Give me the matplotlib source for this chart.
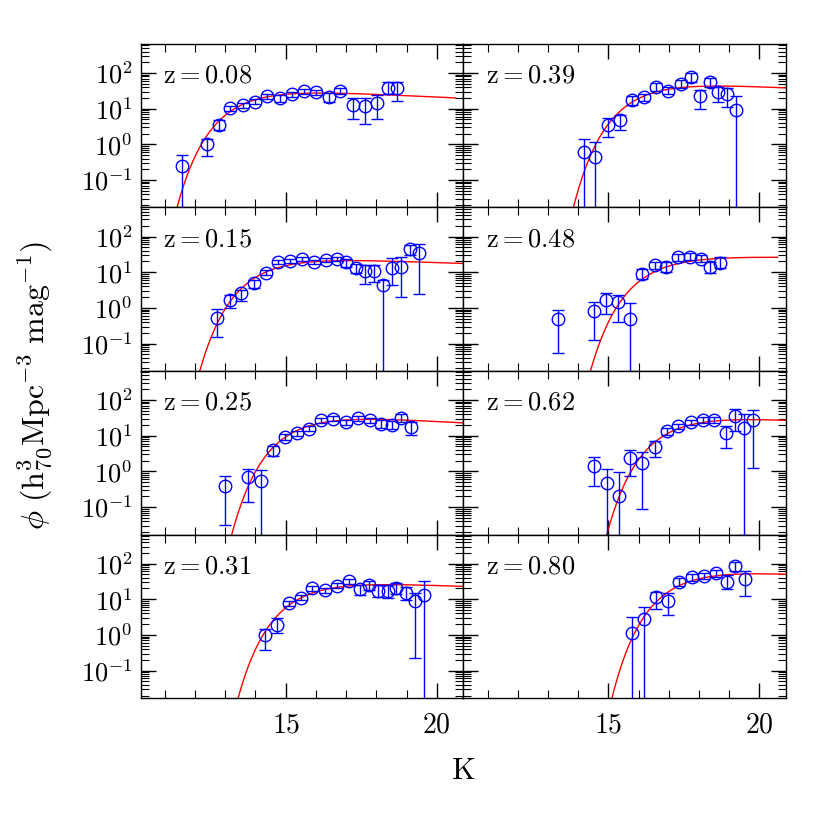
import numpy as np
import matplotlib
matplotlib.use("Agg")
import matplotlib.pyplot as plt
from matplotlib.ticker import MultipleLocator, LogLocator, NullFormatter, FuncFormatter

plt.rcParams['font.family'] = ['DejaVu Serif']
plt.rcParams['mathtext.fontset'] = 'cm'

# ---------------- data ----------------
redshifts = ["0.08", "0.15", "0.25", "0.31", "0.39", "0.48", "0.62", "0.80"]

K1 = [11.58, 12.39, 12.78, 13.17, 13.58, 14.0, 14.37, 14.8, 15.2, 15.59, 16.0, 16.42, 16.81, 17.22, 17.61, 18.02, 18.37, 18.69]
P1 = [0.25, 1.0, 3.6, 10.2, 12.6, 15.7, 22.6, 19.5, 25.7, 31, 29, 21.6, 31, 12.3, 11.8, 14.7, 38.7, 37]
LO1 = [3.0, 0.33, 0.14, 0.08, 0.07, 0.07, 0.07, 0.1, 0.07, 0.07, 0.07, 0.14, 0.09, 0.38, 0.5, 0.47, 0.18, 0.35]
HI1 = [0.29, 0.14, 0.12, 0.08, 0.07, 0.07, 0.07, 0.1, 0.07, 0.07, 0.07, 0.11, 0.09, 0.2, 0.24, 0.21, 0.17, 0.19]

K2 = [12.72, 13.14, 13.52, 13.94, 14.34, 14.74, 15.14, 15.54, 15.93, 16.34, 16.71, 17.01, 17.32, 17.62, 17.91, 18.22, 18.51, 18.82, 19.1, 19.4]
P2 = [0.53, 1.66, 2.6, 4.9, 9.7, 19, 20.8, 23.6, 19, 22, 23, 19, 12.9, 10.9, 11.1, 4.4, 13.5, 14.4, 44, 35.5]
LO2 = [0.53, 0.21, 0.23, 0.12, 0.07, 0.06, 0.06, 0.06, 0.06, 0.06, 0.06, 0.12, 0.14, 0.37, 0.33, 3.0, 0.49, 0.84, 0.16, 1.16]
HI2 = [0.24, 0.14, 0.09, 0.09, 0.07, 0.06, 0.06, 0.06, 0.06, 0.06, 0.06, 0.09, 0.11, 0.17, 0.16, 0.14, 0.28, 0.26, 0.12, 0.24]

K3 = [12.98, 13.75, 14.17, 14.58, 14.97, 15.36, 15.78, 16.17, 16.56, 16.98, 17.39, 17.78, 18.14, 18.52, 18.82, 19.14]
P3 = [0.38, 0.68, 0.54, 3.96, 9.4, 11.7, 15.5, 27.5, 29.5, 24, 31, 26.8, 21, 20, 31.6, 17]
LO3 = [1.09, 0.69, 3.0, 0.17, 0.08, 0.07, 0.07, 0.07, 0.07, 0.07, 0.07, 0.07, 0.12, 0.12, 0.11, 0.21]
HI3 = [0.28, 0.23, 0.3, 0.11, 0.08, 0.07, 0.07, 0.07, 0.07, 0.07, 0.07, 0.07, 0.12, 0.12, 0.11, 0.16]

K4 = [14.3, 14.7, 15.1, 15.5, 15.88, 16.3, 16.69, 17.1, 17.46, 17.77, 18.07, 18.38, 18.66, 18.99, 19.27, 19.58]
P4 = [0.97, 1.95, 7.6, 11.1, 20, 17.8, 23.6, 31.6, 19, 24.6, 17, 16.7, 21.2, 15.4, 8.9, 13.4]
LO4 = [0.42, 0.25, 0.07, 0.07, 0.07, 0.07, 0.07, 0.07, 0.15, 0.12, 0.17, 0.18, 0.17, 0.21, 1.6, 3.0]
HI4 = [0.19, 0.17, 0.07, 0.07, 0.07, 0.07, 0.07, 0.07, 0.13, 0.12, 0.16, 0.17, 0.13, 0.16, 0.23, 0.37]

K5 = [14.18, 14.57, 15.0, 15.4, 15.77, 16.19, 16.58, 16.99, 17.39, 17.74, 18.02, 18.35, 18.62, 18.93, 19.23]
P5 = [0.62, 0.43, 3.46, 4.8, 17.5, 20.7, 41.5, 31.9, 49, 75, 22.5, 54.5, 30, 25.8, 9.1]
LO5 = [3.0, 3.0, 0.33, 0.28, 0.14, 0.1, 0.11, 0.1, 0.1, 0.12, 0.35, 0.12, 0.28, 0.36, 3.0]
HI5 = [0.35, 0.44, 0.19, 0.14, 0.11, 0.1, 0.11, 0.1, 0.1, 0.12, 0.17, 0.12, 0.14, 0.16, 0.39]

K6 = [13.32, 14.51, 14.92, 15.33, 15.72, 16.12, 16.53, 16.91, 17.3, 17.71, 18.07, 18.37, 18.68]
P6 = [0.49, 0.81, 1.66, 1.43, 0.48, 8.9, 15.4, 14.4, 26, 27.5, 23.6, 13.7, 18.6]
LO6 = [0.95, 0.8, 0.4, 0.56, 3.0, 0.14, 0.1, 0.14, 0.1, 0.1, 0.1, 0.17, 0.15]
HI6 = [0.25, 0.26, 0.19, 0.21, 0.45, 0.14, 0.1, 0.14, 0.1, 0.1, 0.1, 0.14, 0.15]

K7 = [14.54, 14.94, 15.34, 15.73, 16.12, 16.55, 16.94, 17.32, 17.72, 18.13, 18.51, 18.9, 19.18, 19.49, 19.78]
P7 = [1.46, 0.47, 0.21, 2.35, 1.7, 4.8, 13.2, 18.2, 23.5, 28, 28, 11.8, 35, 16.3, 28]
LO7 = [0.57, 3.0, 3.0, 0.51, 1.29, 0.28, 0.1, 0.08, 0.08, 0.08, 0.08, 0.42, 0.42, 3.0, 1.34]
HI7 = [0.23, 0.39, 0.65, 0.22, 0.31, 0.18, 0.1, 0.08, 0.08, 0.08, 0.08, 0.21, 0.21, 0.4, 0.28]

K8 = [15.77, 16.19, 16.58, 16.99, 17.35, 17.76, 18.16, 18.57, 18.92, 19.2, 19.53]
P8 = [1.15, 2.8, 11.2, 9.1, 31, 40.7, 44.9, 53.5, 31, 88, 36]
LO8 = [3.0, 3.0, 0.33, 0.4, 0.11, 0.09, 0.09, 0.1, 0.21, 0.15, 0.46]
HI8 = [0.43, 0.33, 0.16, 0.21, 0.11, 0.09, 0.09, 0.1, 0.19, 0.11, 0.23]

# Schechter-fit parameters for each panel (phi*, K*, alpha, K limit of the drawn fit)
PHI_STAR = [41.4, 30.0, 45.3, 36.8, 65.0, 32.5, 42.5, 77.8]
K_STAR = [13.65, 14.35, 15.48, 15.65, 16.15, 16.6, 17.2, 17.45]
ALPHA = [-0.90, -0.925, -0.88, -0.92, -0.90, -0.97, -0.90, -0.90]
K_FIT_MAX = [20.62, 21.0, 21.0, 21.0, 21.0, 20.6, 21.0, 21.0]

KS = [K1, K2, K3, K4, K5, K6, K7, K8]
PS = [P1, P2, P3, P4, P5, P6, P7, P8]
LOS = [LO1, LO2, LO3, LO4, LO5, LO6, LO7, LO8]
HIS = [HI1, HI2, HI3, HI4, HI5, HI6, HI7, HI8]


def schechter(k, phis, ks, a):
    x = 10 ** (0.4 * (ks - k))
    return 0.4 * np.log(10) * phis * x ** (a + 1) * np.exp(-x)


def log_fmt(v, pos):
    e = int(round(np.log10(v)))
    return r"$10^{%d}$" % e


def lin_fmt(v, pos):
    return r"$%d$" % int(round(v))


fig = plt.figure(figsize=(8.3, 8.3), dpi=100)
axes = fig.subplots(4, 2, sharex=True, sharey=True,
                    gridspec_kw=dict(hspace=0, wspace=0))
fig.subplots_adjust(left=0.1695, right=0.947, top=0.947, bottom=0.159)

for i in range(8):
    col = i // 4
    row = i % 4
    ax = axes[row, col]
    k = np.array(KS[i])
    p = np.array(PS[i])
    lo = p - p * 10 ** (-np.array(LOS[i]))
    hi = p * 10 ** np.array(HIS[i]) - p
    kk = np.linspace(10.0, K_FIT_MAX[i], 600)
    ax.plot(kk, schechter(kk, PHI_STAR[i], K_STAR[i], ALPHA[i]), color='red', lw=1.0, zorder=2)
    ax.errorbar(k, p, yerr=[lo, hi], fmt='o', mfc='none', mec='blue', ms=9,
                mew=1.0, ecolor='blue', elinewidth=1.0, capsize=4, capthick=1.0, zorder=3)
    ax.text(0.07, 0.81, r"$\mathrm{z}=\mathrm{%s}$" % redshifts[i], transform=ax.transAxes,
            fontsize=19, ha='left', va='center')
    ax.set_yscale('log')
    ax.set_xlim(10.2, 20.88)
    ax.set_ylim(0.017, 650)
    ax.xaxis.set_major_locator(MultipleLocator(5))
    ax.xaxis.set_minor_locator(MultipleLocator(1))
    ax.xaxis.set_major_formatter(FuncFormatter(lin_fmt))
    ax.yaxis.set_major_locator(LogLocator(base=10, numticks=10))
    ax.yaxis.set_minor_locator(LogLocator(base=10, subs=np.arange(2, 10), numticks=20))
    ax.yaxis.set_minor_formatter(NullFormatter())
    ax.yaxis.set_major_formatter(FuncFormatter(log_fmt))
    ax.tick_params(which='both', direction='in', top=True, right=True)
    ax.tick_params(which='major', length=11, width=1.0)
    ax.tick_params(which='minor', length=6, width=0.8)
    ax.tick_params(axis='y', which='major', labelsize=19, pad=6)
    ax.tick_params(axis='x', which='major', labelsize=20, pad=10)
    for s in ax.spines.values():
        s.set_linewidth(1.0)

axes[0, 0].set_yticks([0.1, 1, 10, 100])
axes[0, 0].set_ylim(0.017, 650)
for ax in axes[:, 1]:
    ax.tick_params(labelleft=False)

fig.text(0.043, 0.535, r"$\phi\ (\mathrm{h}^3_{70}\mathrm{Mpc}^{-3}\ \mathrm{mag}^{-1})$",
         rotation=90, ha='center', va='center', fontsize=23)
fig.text(0.558, 0.072, r"$\mathrm{K}$", ha='center', va='center', fontsize=22)

fig.savefig("out.png", dpi=100)
